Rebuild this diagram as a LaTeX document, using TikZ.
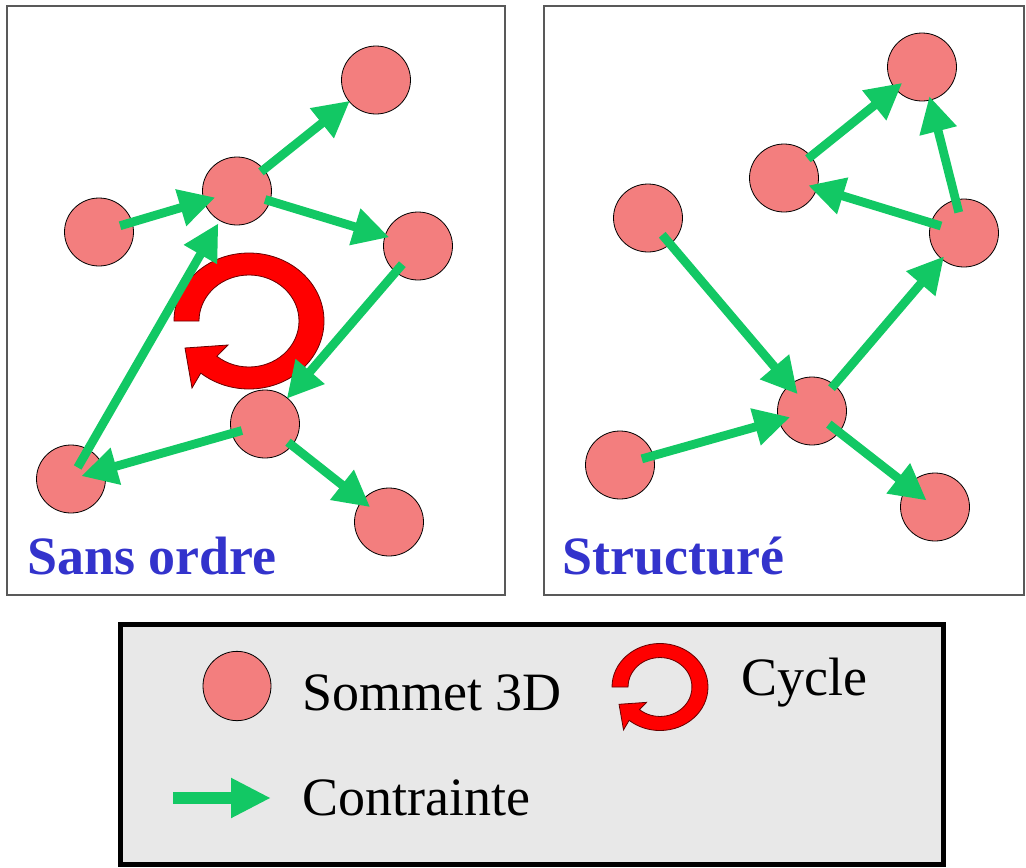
\documentclass[tikz,border=0pt]{standalone}
\usepackage{fontspec}
\setmainfont{Liberation Serif}
\usetikzlibrary{arrows.meta,shapes.geometric,calc}
\definecolor{vert}{RGB}{18,200,100}
\definecolor{saumon}{RGB}{243,126,126}
\definecolor{bleu}{RGB}{51,51,204}
\definecolor{gris}{RGB}{232,232,232}
\definecolor{rouge}{RGB}{255,0,0}
\begin{document}
\begin{tikzpicture}[x=0.75pt,y=-0.75pt,
 vertex/.style={ellipse,draw=black,line width=0.6pt,fill=saumon,minimum width=51.75pt,minimum height=51pt,inner sep=0pt},
 con/.style={draw=vert,line width=6.6pt,-{Triangle[length=27pt,width=27pt]}},
 legcon/.style={draw=vert,line width=9pt,-{Triangle[length=30pt,width=28pt]}},
 panel/.style={draw=black!65,line width=1.1pt},
 titre/.style={font=\fontsize{40.5}{48}\selectfont\bfseries,text=bleu,anchor=base west,inner sep=0pt},
 leg/.style={font=\fontsize{40.5}{48}\selectfont,anchor=base west,inner sep=0pt},
 cyclearrow/.pic={
   \filldraw[fill=rouge,draw=black!60!red,line width=0.6pt]
     (-75,0) arc[start angle=180,end angle=490,x radius=75,y radius=68]
     -- (-57,67) -- (-64,27) -- (-21,24)
     -- ({50*cos(490)},{46*sin(490)})
     arc[start angle=490,end angle=180,x radius=50,y radius=46] -- cycle;
 }]
\useasboundingbox (0,0) rectangle (1026,868);
% panels
\draw[panel] (7,6) rectangle (505,595);
\draw[panel] (544,6) rectangle (1024,595);
% left panel nodes
\node[vertex] (A) at (376,80) {};
\node[vertex] (B) at (237,191) {};
\node[vertex] (C) at (99,232) {};
\node[vertex] (D) at (418,246) {};
\node[vertex] (E) at (265,424) {};
\node[vertex] (F) at (71,479) {};
\node[vertex] (G) at (389,522) {};
\pic at (249,321) {cyclearrow};
\draw[con,shorten <=16.5pt,shorten >=17pt] (C.center) -- (B.center);
\draw[con,shorten <=23pt,shorten >=25pt] (B.center) -- (A.center);
\draw[con,shorten <=22pt,shorten >=22.5pt] (B.center) -- (D.center);
\draw[con,shorten <=18pt,shorten >=25pt] (D.center) -- (E.center);
\draw[con,shorten <=18pt,shorten >=8pt] (E.center) -- (F.center);
\draw[con,shorten <=10pt,shorten >=28pt] (F.center) -- (B.center);
\draw[con,shorten <=22pt,shorten >=18pt] (E.center) -- (G.center);
\node[titre] (t1) at (27,574) {Sans ordre};
% right panel nodes
\node[vertex] (H) at (922,67) {};
\node[vertex] (I) at (784,178) {};
\node[vertex] (J) at (964,233) {};
\node[vertex] (K) at (648,218) {};
\node[vertex] (L) at (812,411) {};
\node[vertex] (M) at (620,465) {};
\node[vertex] (N) at (935,507) {};
\draw[con,shorten <=16.5pt,shorten >=16.5pt] (K.center) -- (L.center);
\draw[con,shorten <=17pt,shorten >=17pt] (M.center) -- (L.center);
\draw[con,shorten <=22.5pt,shorten >=23pt] (L.center) -- (J.center);
\draw[con,shorten <=16pt,shorten >=8pt] (L.center) -- (N.center);
\draw[con,shorten <=18pt,shorten >=19pt] (J.center) -- (I.center);
\draw[con,shorten <=23pt,shorten >=19pt] (I.center) -- (H.center);
\draw[con,shorten <=16pt,shorten >=22.5pt] (J.center) -- (H.center);
\node[titre] (t2) at (562,574) {Structuré};
% legend
\draw[fill=gris,draw=black,line width=3.75pt] (120,624) rectangle (943,864);
\node[vertex,minimum width=51pt,minimum height=52pt] (lv) at (237,686) {};
\node[leg] (l1) at (302,710) {Sommet 3D};
\pic[scale=0.64] at (660,687) {cyclearrow};
\node[leg] (l2) at (741,695) {Cycle};
\coordinate (la) at (173,798);
\coordinate (lb) at (271,798);
\draw[legcon] (la) -- (lb);
\node[leg] (l3) at (302,815) {Contrainte};
\end{tikzpicture}
\end{document}
